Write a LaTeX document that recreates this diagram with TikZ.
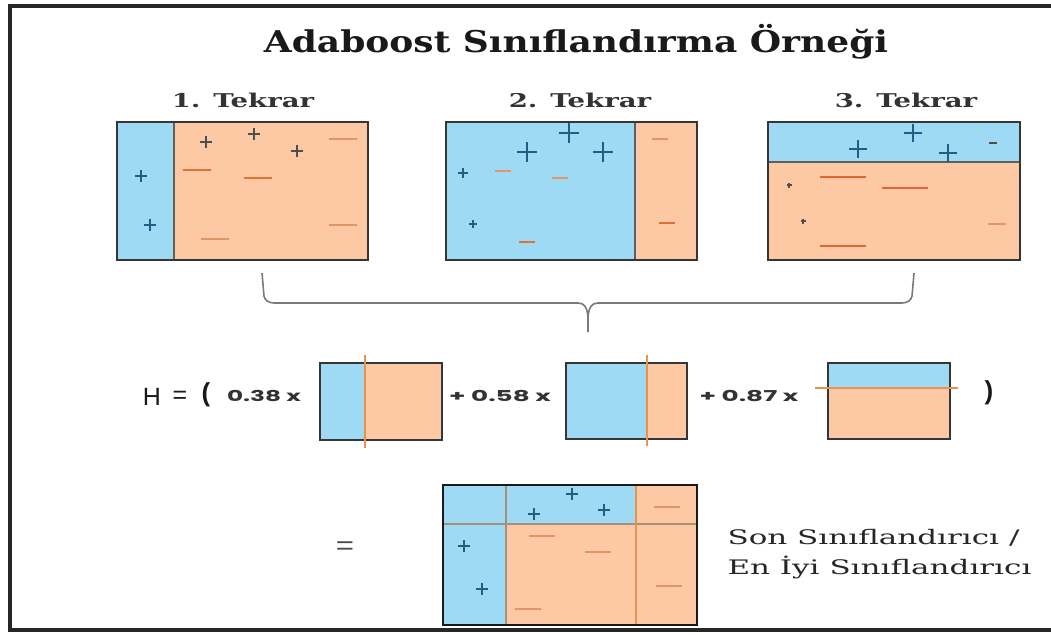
\documentclass[tikz,border=0pt]{standalone}
\usepackage{fontspec}
\usepackage{graphicx}
\setmainfont{DejaVu Serif}
\newfontfamily\titlefont{DejaVu Serif}
\newfontfamily\slabfont{DejaVu Serif}
\newfontfamily\geofont{Poppins}
\newfontfamily\arialfont{Liberation Sans}
\definecolor{bluefill}{HTML}{9FDAF4}
\definecolor{orangefill}{HTML}{FDC9A5}
\definecolor{boxline}{HTML}{363636}
\definecolor{plusblue}{HTML}{235D84}
\definecolor{plusgray}{HTML}{4E4E4E}
\definecolor{minusorange}{HTML}{DD7435}
\definecolor{minuslight}{HTML}{E3956A}
\definecolor{splitorange}{HTML}{E8924F}
\definecolor{bracegray}{HTML}{7A7A7A}
\newcommand\drawplus[4]{\draw[#4] ({#1-#3},#2) -- ({#1+#3},#2) (#1,{#2-#3}) -- (#1,{#2+#3});}
\newcommand\drawminus[4]{\draw[#4] ({#1-#3},#2) -- ({#1+#3},#2);}
\newcommand\wide[2]{\scalebox{#1}[1]{#2}}
\begin{document}
\begin{tikzpicture}[x=1pt,y=-1pt,
  boxborder/.style={draw=boxline,line width=1.8pt},
  splitline/.style={draw=boxline!80,line width=1.4pt},
  orsplit/.style={draw=splitorange,line width=1.8pt},
  plblue/.style={plusblue,line width=1.6pt},
  plbig/.style={plusblue,line width=2.8pt},
  plgray/.style={plusgray,line width=1.5pt},
  mnor/.style={minusorange,line width=1.8pt},
  mnlight/.style={minuslight,line width=1.4pt},
  mnbig/.style={minusorange!90!red,line width=2.6pt},
  heading/.style={font=\slabfont\bfseries\fontsize{19}{22}\selectfont,text=black!80},
  coef/.style={font=\geofont\bfseries\fontsize{15}{18}\selectfont,text=black!80},
  finaltext/.style={font=\fontsize{20}{24}\selectfont,text=black!85,anchor=west}
]
\fill[white] (0,0) rectangle (1051,634);
\useasboundingbox (0,0) rectangle (1051,634);
\draw[line width=3.2pt,black!85] (1051,6) -- (10,6) -- (10,630) -- (1051,630);

% title
\node[font=\titlefont\bfseries\fontsize{30}{34}\selectfont,text=black!90] (title) at (576,42) {\wide{1.2}{Adaboost Sınıflandırma Örneği}};

% headings
\node[heading] (h1) at (243,100) {\wide{1.45}{1. Tekrar}};
\node[heading] (h2) at (580,100) {\wide{1.45}{2. Tekrar}};
\node[heading] (h3) at (906,100) {\wide{1.45}{3. Tekrar}};

% box 1
\fill[bluefill] (117,122) rectangle (174,260);
\fill[orangefill] (174,122) rectangle (368,260);
\draw[splitline] (174,122) -- (174,260);
\draw[boxborder] (117,122) rectangle (368,260);
\drawplus{206}{142}{6}{plgray}
\drawplus{254}{134}{6}{plgray}
\drawplus{297}{151}{6}{plgray}
\drawplus{141}{176}{6}{plblue}
\drawplus{150}{225}{6}{plblue}
\drawminus{343}{139}{14}{mnlight}
\drawminus{197}{170}{14}{mnor}
\drawminus{258}{178}{14}{mnor}
\drawminus{343}{225}{14}{mnlight}
\drawminus{215}{239}{14}{mnlight}

% box 2
\fill[bluefill] (446,122) rectangle (635,260);
\fill[orangefill] (635,122) rectangle (697,260);
\draw[splitline] (635,122) -- (635,260);
\draw[boxborder] (446,122) rectangle (697,260);
\drawplus{569}{133}{10}{plbig}
\drawplus{527}{152}{10}{plbig}
\drawplus{603}{152}{10}{plbig}
\drawplus{463}{173}{5}{plblue}
\drawplus{473}{224}{4}{plblue}
\drawminus{503}{171}{8}{mnlight}
\drawminus{560}{178}{8}{mnlight}
\drawminus{527}{242}{8}{mnor}
\drawminus{660}{139}{8}{mnlight}
\drawminus{667}{223}{8}{mnor}

% box 3
\fill[bluefill] (768,122) rectangle (1020,162);
\fill[orangefill] (768,162) rectangle (1020,260);
\draw[splitline] (768,162) -- (1020,162);
\draw[boxborder] (768,122) rectangle (1020,260);
\drawplus{913}{133}{9}{plblue,line width=2.2pt}
\drawplus{858}{149}{9}{plblue,line width=2.2pt}
\drawplus{948}{153}{9}{plblue,line width=2.2pt}
\drawminus{993}{143}{4}{plgray,line width=1.2pt}
\drawminus{843}{177}{23}{mnbig}
\drawminus{905}{188}{23}{mnbig}
\drawminus{843}{246}{23}{mnbig}
\drawplus{789}{185}{2.5}{plgray,line width=1.2pt}
\drawplus{803}{221}{2.5}{plgray,line width=1.2pt}
\drawminus{997}{224}{9}{mnlight}

% brace
\coordinate (bl) at (262,273);
\coordinate (br) at (914,273);
\coordinate (bt) at (588,332);
\draw[bracegray,line width=1.6pt] (bl) -- (264,296) to[out=-80,in=180] (274,303) -- (578,303) to[out=0,in=90] (bt);
\draw[bracegray,line width=1.6pt] (br) -- (912,296) to[out=-100,in=0] (902,303) -- (598,303) to[out=180,in=90] (bt);

% formula row
\node[font=\arialfont\fontsize{25}{28}\selectfont,text=black!90] (H) at (152,397) {H};
\node[font=\arialfont\fontsize{25}{28}\selectfont,text=black!90] (eqA) at (180,397) {=};
\node[font=\arialfont\bfseries\fontsize{26}{28}\selectfont,text=black!90] (lp) at (206,395) {(};
\node[coef] (c1) at (264,396) {\wide{1.65}{0.38 x}};
\fill[bluefill] (320,363) rectangle (365,440);
\fill[orangefill] (365,363) rectangle (442,440);
\draw[boxborder] (320,363) rectangle (442,440);
\draw[orsplit] (365,355) -- (365,448);
\node[coef] (c2) at (500,396) {\wide{1.75}{+ 0.58 x}};
\fill[bluefill] (566,363) rectangle (647,439);
\fill[orangefill] (647,363) rectangle (687,439);
\draw[boxborder] (566,363) rectangle (687,439);
\draw[orsplit] (647,355) -- (647,446);
\node[coef] (c3) at (749,396) {\wide{1.75}{+ 0.87 x}};
\fill[bluefill] (828,363) rectangle (950,388);
\fill[orangefill] (828,388) rectangle (950,439);
\draw[boxborder] (828,363) rectangle (950,439);
\draw[orsplit] (815,388) -- (958,388);
\node[font=\arialfont\bfseries\fontsize{26}{28}\selectfont,text=black!90] (rp) at (989,393) {)};

% final row
\node[font=\arialfont\fontsize{26}{28}\selectfont,text=black!70] (eq) at (345,548) {\wide{1.2}{=}};
\fill[bluefill] (443,485) rectangle (506,625);
\fill[bluefill] (506,485) rectangle (636,524);
\fill[orangefill] (636,485) rectangle (697,524);
\fill[orangefill] (506,524) rectangle (697,625);
\draw[draw=black!45!brown!60,line width=1.5pt] (506,485) -- (506,625);
\draw[draw=black!45!brown!60,line width=1.5pt] (443,524) -- (697,524);
\draw[draw=splitorange,line width=1.6pt] (636,485) -- (636,625);
\draw[boxborder,draw=black!90] (443,485) rectangle (697,625);
\drawplus{572}{494}{6}{plblue}
\drawplus{534}{514}{6}{plblue}
\drawplus{604}{510}{6}{plblue}
\drawplus{464}{546}{6}{plblue}
\drawplus{482}{589}{6}{plblue}
\drawminus{667}{507}{13}{mnlight}
\drawminus{542}{536}{13}{mnlight}
\drawminus{598}{552}{13}{mnlight}
\drawminus{669}{586}{13}{mnlight}
\drawminus{528}{609}{13}{mnlight}
\node[finaltext] (t1) at (724,538) {\wide{1.55}{Son Sınıflandırıcı /}};
\node[finaltext] (t2) at (724,568) {\wide{1.55}{En İyi Sınıflandırıcı}};
\end{tikzpicture}
\end{document}
